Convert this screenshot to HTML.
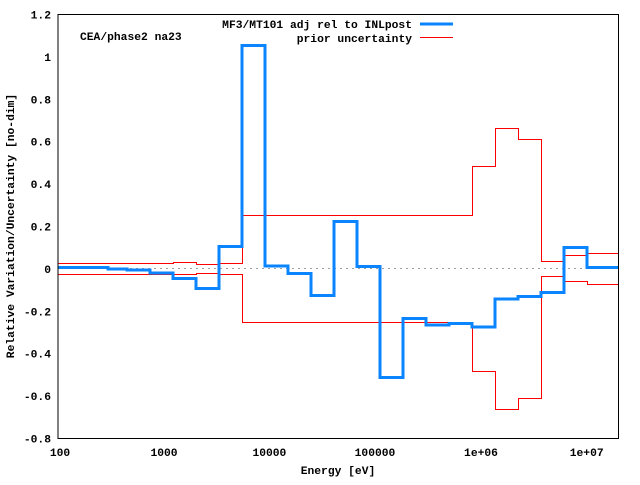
<!DOCTYPE html>
<html><head><meta charset="utf-8"><style>
body{margin:0;background:#fff}
svg text{font-family:"Liberation Mono",monospace;font-weight:bold;font-size:11.3px;fill:#000}
</style></head><body>
<svg width="640" height="480" xmlns="http://www.w3.org/2000/svg">
<rect width="640" height="480" fill="#fff"/>
<line x1="58" y1="268.5" x2="618" y2="268.5" stroke="#a0a0a0" stroke-width="1" stroke-dasharray="2,4" shape-rendering="crispEdges"/>
<g id="ticks" stroke="#000" stroke-width="1" shape-rendering="crispEdges"></g>
<g shape-rendering="crispEdges">
<polyline fill="none" stroke="#ff0000" stroke-width="1" points="58.5,263.5 173.5,263.5 173.5,262.5 196.5,262.5 196.5,264.5 219.5,264.5 219.5,263.5 242.5,263.5 242.5,215.5 472.5,215.5 472.5,166.5 495.5,166.5 495.5,128.5 518.5,128.5 518.5,139.5 541.5,139.5 541.5,261.5 564.5,261.5 564.5,255.5 587.5,255.5 587.5,253.5 618,253.5"/>
<polyline fill="none" stroke="#ff0000" stroke-width="1" points="58.5,274.5 196.5,274.5 196.5,273.5 219.5,273.5 219.5,274.5 242.5,274.5 242.5,322.5 472.5,322.5 472.5,371.5 495.5,371.5 495.5,409.5 518.5,409.5 518.5,398.5 541.5,398.5 541.5,276.5 564.5,276.5 564.5,281.5 587.5,281.5 587.5,284.5 618,284.5"/>
<polyline fill="none" stroke="#0a84ff" stroke-width="3" points="58,267.5 108,267.5 108,269 127,269 127,270 150,270 150,273 173,273 173,278.5 196,278.5 196,288.5 219,288.5 219,246.5 242,246.5 242,45.5 265,45.5 265,266 288,266 288,273.5 311,273.5 311,295.5 334,295.5 334,221.5 357,221.5 357,266.5 380,266.5 380,377.5 403,377.5 403,318.5 426,318.5 426,325 449,325 449,323.5 472,323.5 472,327 495,327 495,299 518,299 518,296.5 541,296.5 541,292.5 564,292.5 564,247.5 587,247.5 587,267.5 618,267.5"/>
<rect x="58" y="14.3" width="560.3" height="424" fill="none" stroke="#000" stroke-width="1"/>
</g>
<g text-anchor="end">
<text x="51" y="18.5">1.2</text>
<text x="51" y="60.9">1</text>
<text x="51" y="103.3">0.8</text>
<text x="51" y="145.7">0.6</text>
<text x="51" y="188.1">0.4</text>
<text x="51" y="230.5">0.2</text>
<text x="51" y="272.9">0</text>
<text x="51" y="315.3">-0.2</text>
<text x="51" y="357.7">-0.4</text>
<text x="51" y="400.1">-0.6</text>
<text x="51" y="442.5">-0.8</text>
</g>
<g text-anchor="middle">
<text x="60" y="456">100</text>
<text x="164" y="456">1000</text>
<text x="269.4" y="456">10000</text>
<text x="375" y="456">100000</text>
<text x="481" y="456">1e+06</text>
<text x="586.7" y="456">1e+07</text>
<text x="338" y="474">Energy [eV]</text>
<text transform="translate(14,226) rotate(-90)">Relative Variation/Uncertainty [no-dim]</text>
</g>
<text x="80" y="40">CEA/phase2 na23</text>
<g text-anchor="end">
<text x="412" y="28">MF3/MT101 adj rel to INLpost</text>
<text x="412" y="42">prior uncertainty</text>
</g>
<g shape-rendering="crispEdges">
<line x1="420" y1="24" x2="453" y2="24" stroke="#0a84ff" stroke-width="3"/>
<line x1="420" y1="37.5" x2="453" y2="37.5" stroke="#ff0000" stroke-width="1"/>
</g>
<script>
var g=document.getElementById('ticks'),s='';
function L(a,b,c,d){s+='<line x1="'+a+'" y1="'+b+'" x2="'+c+'" y2="'+d+'"/>';}
for(var i=0;i<=10;i++){var y=14.3+i*42.4;L(58,y,64,y);L(618,y,612,y);}
var dec=105.67;
for(var e=2;e<=7;e++){for(var m=1;m<=9;m++){var x=58+(e-2+Math.log10(m))*dec;if(x>618)break;var len=m==1?6:3;L(x,438.3,x,438.3-len);L(x,14.3,x,14.3+len);}}
g.innerHTML=s;
</script>
</svg>
</body></html>
